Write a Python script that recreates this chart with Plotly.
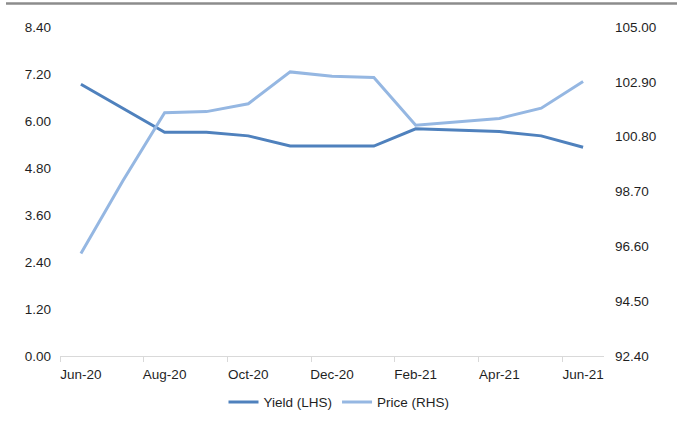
import plotly.graph_objects as go

months = ["Jun-20", "Jul-20", "Aug-20", "Sep-20", "Oct-20", "Nov-20", "Dec-20",
          "Jan-21", "Feb-21", "Mar-21", "Apr-21", "May-21", "Jun-21"]
yield_lhs = [6.94, 6.33, 5.71, 5.71, 5.62, 5.36, 5.36, 5.36, 5.80, 5.77, 5.73, 5.62, 5.33]
price_rhs = [96.33, 99.10, 101.72, 101.76, 102.06, 103.28, 103.11, 103.07, 101.24, 101.36, 101.50, 101.89, 102.91]

left_ticks = [0.0, 1.2, 2.4, 3.6, 4.8, 6.0, 7.2, 8.4]
right_ticks = [92.4, 94.5, 96.6, 98.7, 100.8, 102.9, 105.0]

idx = list(range(len(months)))
label_idx = idx[::2]
boundaries = [i - 0.5 for i in label_idx]

FONT = "Liberation Sans, Arial, sans-serif"
TXT = "#1f1f1f"

fig = go.Figure()
fig.add_trace(go.Scatter(x=idx, y=yield_lhs, name="Yield (LHS)", mode="lines",
                         line=dict(color="#4f81bd", width=3), yaxis="y"))
fig.add_trace(go.Scatter(x=idx, y=price_rhs, name="Price (RHS)", mode="lines",
                         line=dict(color="#95b7e2", width=3), yaxis="y2"))

fig.update_layout(
    width=678, height=428,
    margin=dict(l=60, r=74, t=27, b=72, autoexpand=False),
    paper_bgcolor="white", plot_bgcolor="white",
    font=dict(family=FONT, size=13.5, color=TXT),
    showlegend=True,
    legend=dict(orientation="h", xref="container", yref="container",
                x=0.5, xanchor="center", y=0.06, yanchor="middle",
                font=dict(size=13.5, color=TXT), itemwidth=30),
    xaxis=dict(range=[-0.5, len(months) - 0.5], tickmode="array",
               tickvals=label_idx, ticktext=[months[i] for i in label_idx],
               ticks="", showgrid=False, zeroline=False, automargin=False,
               showline=True, linecolor="#d9d9d9", linewidth=1,
               ticklabelstandoff=6,
               minor=dict(tickmode="array", tickvals=boundaries, ticks="outside",
                          ticklen=5, tickcolor="#d9d9d9", showgrid=False)),
    yaxis=dict(range=[0, 8.4], tickmode="array", tickvals=left_ticks,
               ticktext=[f"{v:.2f}" for v in left_ticks], automargin=False,
               showgrid=False, zeroline=False, showline=False, ticks="",
               ticklabelstandoff=8),
    yaxis2=dict(range=[92.4, 105.0], tickmode="array", tickvals=right_ticks,
                ticktext=[f"{v:.2f}" for v in right_ticks], automargin=False,
                overlaying="y", side="right",
                showgrid=False, zeroline=False, showline=False, ticks="",
                ticklabelstandoff=10),
    shapes=[dict(type="line", xref="paper", yref="paper", x0=-54 / 544, x1=1 + 73 / 544,
                 y0=1.0 + 23.5 / 329, y1=1.0 + 23.5 / 329,
                 line=dict(color="#8c8c8c", width=2.5))],
)

fig.write_html("out.html", config={"displayModeBar": False},
               post_script="document.body.style.margin='0';")
